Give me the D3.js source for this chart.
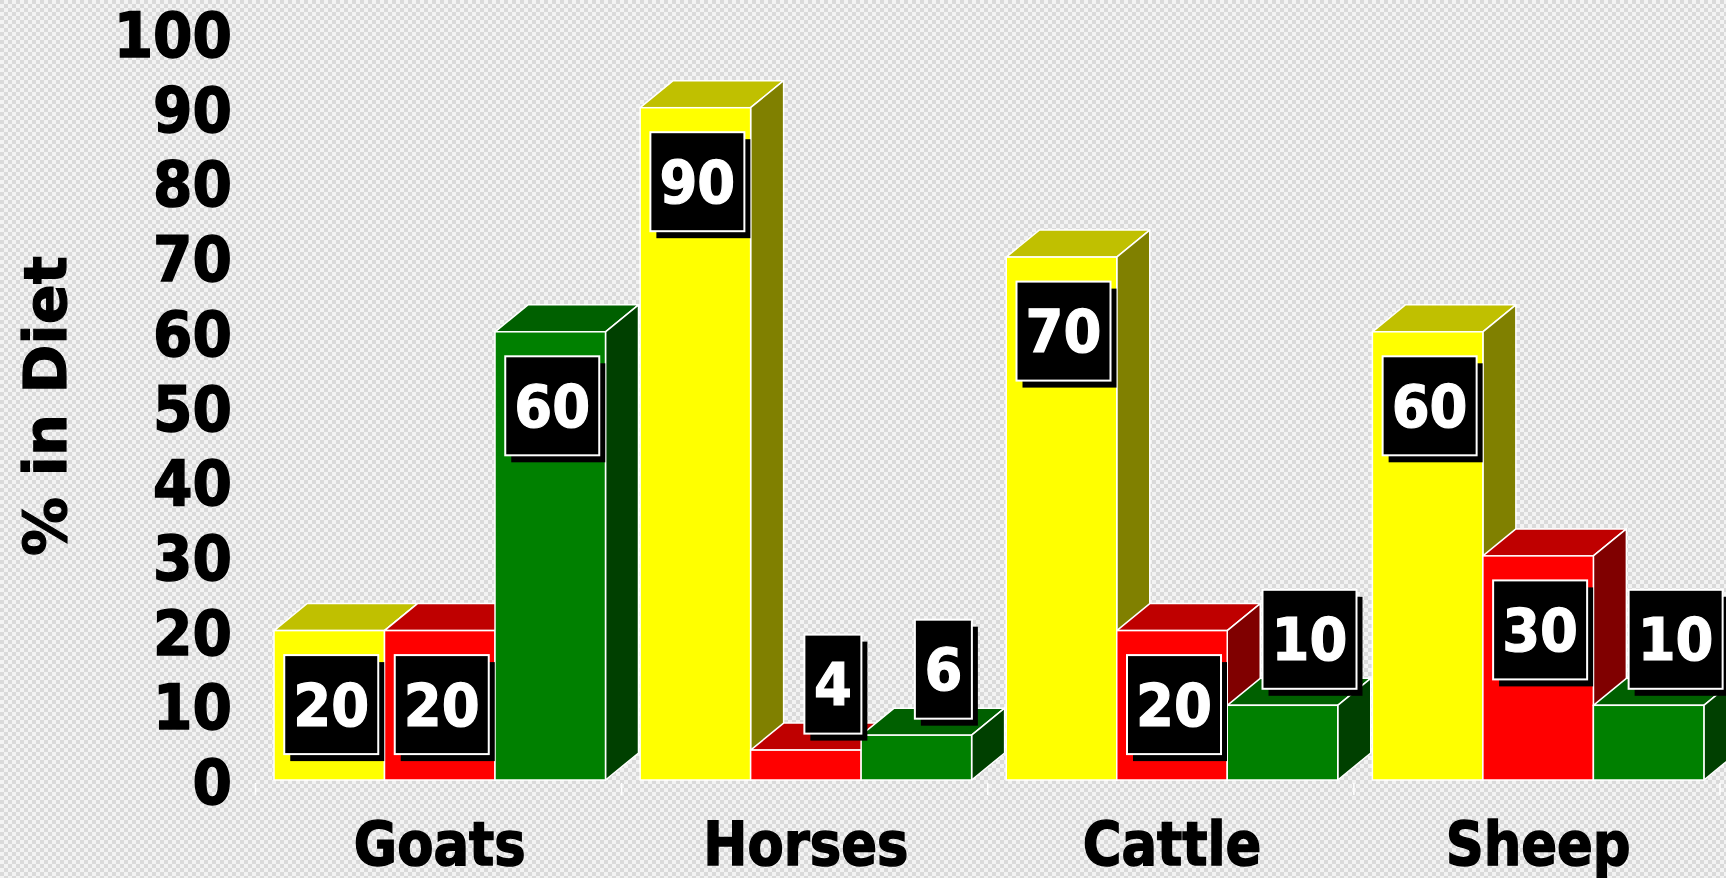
<!DOCTYPE html>
<html>
<head>
<meta charset="utf-8">
<script src="https://cdn.jsdelivr.net/npm/d3@7"></script>
<style>
  body { margin: 0; overflow: hidden; }
  text { font-family: "DejaVu Sans", Verdana, sans-serif; font-weight: bold; }
</style>
</head>
<body>
<div id="chart"></div>
<script>
// ---- data ----
var animals = ["Goats", "Horses", "Cattle", "Sheep"];
var series = ["s1", "s2", "s3"];
var s1 = [20, 90, 70, 60];   // yellow
var s2 = [20, 4, 20, 30];    // red
var s3 = [60, 6, 10, 10];    // green
var yTicks = [0, 10, 20, 30, 40, 50, 60, 70, 80, 90, 100];

var width = 1726, height = 878;
var depthX = 33, depthY = 27;

// front / top / side colours per series
var faces = {
    s1: { front: "#ffff00", top: "#c0c000", side: "#808000" },
    s2: { front: "#ff0000", top: "#bf0000", side: "#800000" },
    s3: { front: "#008000", top: "#006000", side: "#004000" }
};

var rows = [];
animals.forEach(function (a, i) {
    rows.push({ animal: a, key: "s1", value: s1[i] });
    rows.push({ animal: a, key: "s2", value: s2[i] });
    rows.push({ animal: a, key: "s3", value: s3[i] });
});

var svg = d3.select("#chart").append("svg")
    .attr("width", width)
    .attr("height", height);

// checkered background
var defs = svg.append("defs");
var pat = defs.append("pattern")
    .attr("id", "checks")
    .attr("width", 8).attr("height", 8)
    .attr("patternUnits", "userSpaceOnUse");
pat.append("rect").attr("width", 8).attr("height", 8).attr("fill", "#f3f3f3");
pat.append("rect").attr("width", 4).attr("height", 4).attr("fill", "#dadada");
pat.append("rect").attr("x", 4).attr("y", 4).attr("width", 4).attr("height", 4).attr("fill", "#dadada");
svg.append("rect").attr("width", width).attr("height", height).attr("fill", "url(#checks)");

// scales
var x = d3.scaleBand().domain(animals).range([255.5, 1720]);
var xs = d3.scaleBand().domain(series).range([18.5, 350]);
var y = d3.scaleLinear().domain([0, 100]).range([780, 33]);

// y tick labels
svg.append("g").selectAll("text")
    .data(yTicks)
    .enter().append("text")
    .attr("transform", function (d) { return "translate(232," + (y(d) + 24) + ") scale(0.9,1)"; })
    .attr("text-anchor", "end")
    .style("font-size", "63px")
    .attr("fill", "#000")
    .attr("stroke", "#000").attr("stroke-width", 1.5)
    .text(function (d) { return d; });

// y title
svg.append("text")
    .attr("transform", "translate(66,406) rotate(-90)")
    .attr("text-anchor", "middle")
    .style("font-size", "59px")
    .attr("fill", "#000")
    .attr("stroke", "#000").attr("stroke-width", 1.2)
    .text("% in Diet");

// small white ticks on the floor edge
svg.append("g").selectAll("line")
    .data(animals.concat(["end"]))
    .enter().append("line")
    .attr("x1", function (d) { return d === "end" ? x.range()[1] : x(d); })
    .attr("x2", function (d) { return d === "end" ? x.range()[1] : x(d); })
    .attr("y1", 783).attr("y2", 795)
    .attr("stroke", "#fff").attr("stroke-width", 1.5);

// 3D bars, drawn left to right
var base = y(0);
var bars = svg.append("g").selectAll("g.bar")
    .data(rows)
    .enter().append("g")
    .attr("class", "bar");

function bx0(d) { return x(d.animal) + xs(d.key); }
function bx1(d) { return bx0(d) + xs.bandwidth(); }

bars.append("polygon")
    .attr("points", function (d) {
        var t = y(d.value);
        return [[bx0(d), t], [bx1(d), t], [bx1(d) + depthX, t - depthY], [bx0(d) + depthX, t - depthY]].join(" ");
    })
    .attr("fill", function (d) { return faces[d.key].top; })
    .attr("stroke", "#fff").attr("stroke-width", 1.5).attr("stroke-linejoin", "round");

bars.append("polygon")
    .attr("points", function (d) {
        var t = y(d.value);
        return [[bx1(d), t], [bx1(d) + depthX, t - depthY], [bx1(d) + depthX, base - depthY], [bx1(d), base]].join(" ");
    })
    .attr("fill", function (d) { return faces[d.key].side; })
    .attr("stroke", "#fff").attr("stroke-width", 1.5).attr("stroke-linejoin", "round");

bars.append("rect")
    .attr("x", bx0)
    .attr("y", function (d) { return y(d.value); })
    .attr("width", xs.bandwidth())
    .attr("height", function (d) { return base - y(d.value); })
    .attr("fill", function (d) { return faces[d.key].front; })
    .attr("stroke", "#fff").attr("stroke-width", 1.5);

// value labels: black boxes with shadow
var labels = svg.append("g").selectAll("g.lbl")
    .data(rows)
    .enter().append("g")
    .attr("class", "lbl")
    .attr("transform", function (d) {
        var cx = (bx0(d) + bx1(d)) / 2;
        var small = d.value <= 10;
        var lx = cx + (small ? 27 : 2);
        var ly = y(d.value) + (small ? -66 : 74);
        return "translate(" + lx + "," + ly + ")";
    });

function boxW(d) { return String(d.value).length > 1 ? 94 : 57; }

labels.append("rect")
    .attr("x", function (d) { return -boxW(d) / 2 + 6; })
    .attr("y", -49.5 + 7)
    .attr("width", boxW)
    .attr("height", 99)
    .attr("fill", "#000");

labels.append("rect")
    .attr("x", function (d) { return -boxW(d) / 2; })
    .attr("y", -49.5)
    .attr("width", boxW)
    .attr("height", 99)
    .attr("fill", "#000")
    .attr("stroke", "#fff").attr("stroke-width", 2);

labels.append("text")
    .attr("transform", "translate(0,21) scale(0.94,1)")
    .attr("text-anchor", "middle")
    .style("font-size", "58px")
    .attr("fill", "#fff")
    .attr("stroke", "#fff").attr("stroke-width", 1.2)
    .text(function (d) { return d.value; });

// category labels
svg.append("g").selectAll("text")
    .data(animals)
    .enter().append("text")
    .attr("transform", function (d) {
        return "translate(" + (x(d) + xs.range()[0] + (xs.range()[1] - xs.range()[0]) / 2) + ",865) scale(0.88,1)";
    })
    .attr("text-anchor", "middle")
    .style("font-size", "60px")
    .attr("fill", "#000")
    .attr("stroke", "#000").attr("stroke-width", 1.5)
    .text(function (d) { return d; });
</script>
</body>
</html>
